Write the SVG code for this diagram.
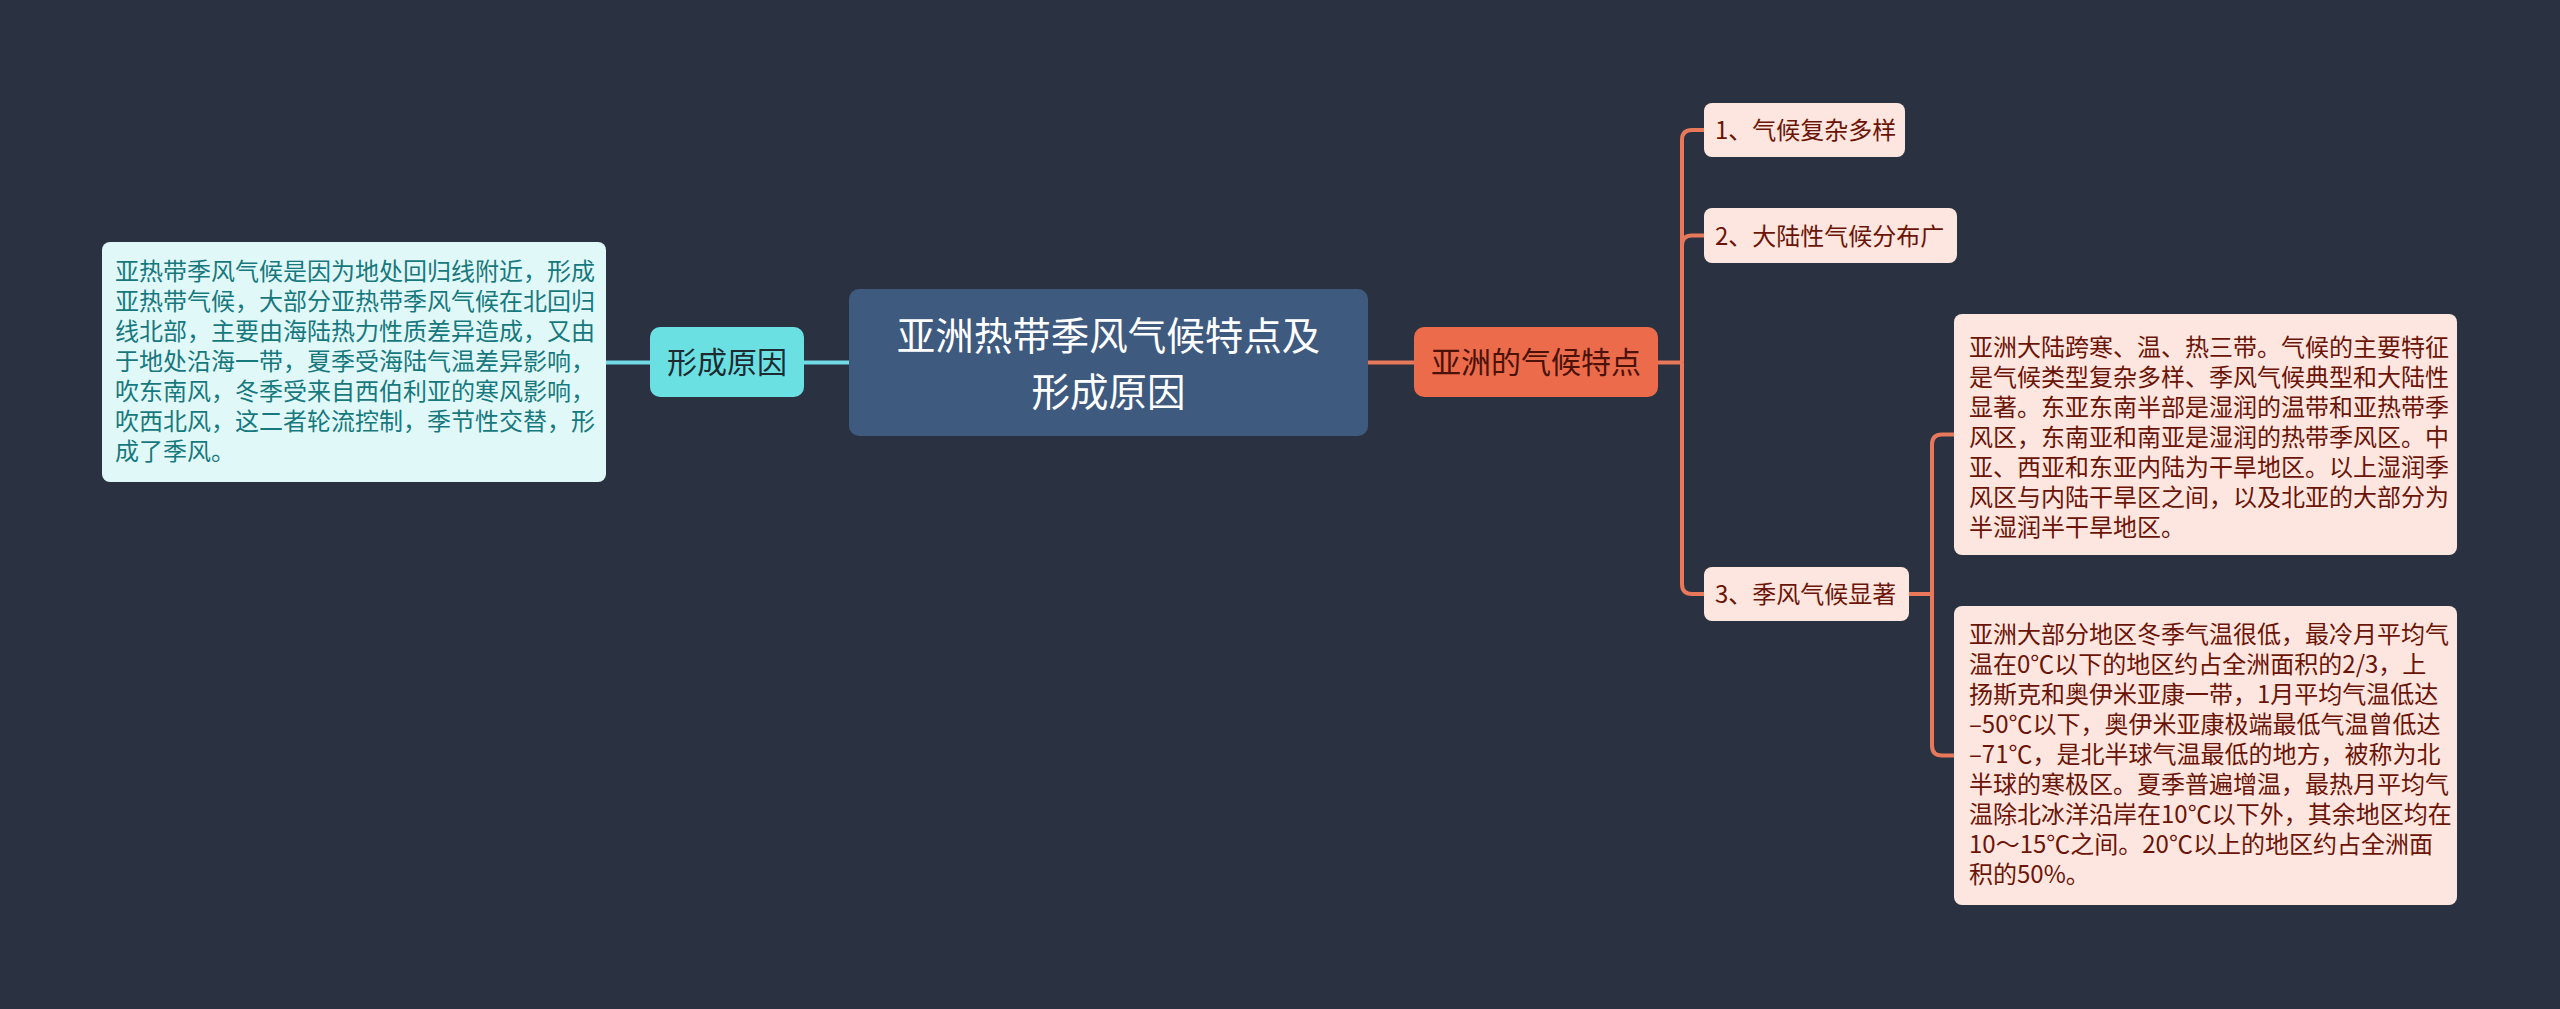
<svg xmlns="http://www.w3.org/2000/svg" width="2560" height="1009" viewBox="0 0 2560 1009">
<style>
text{font-family:"Noto Sans CJK SC","Noto Sans",sans-serif;}
.bt{font-size:24px;}
.teal{fill:#17797e;}
.red{fill:#6b1408;}
.c-cyan{stroke:#70dae5;stroke-width:4;fill:none;}
.c-org{stroke:#e8785a;stroke-width:4;fill:none;}
</style>
<rect x="0" y="0" width="2560" height="1009" fill="#2a3140"/>
<g id="connectors">
  <path class="c-cyan" d="M606,362.5 H650"/>
  <path class="c-cyan" d="M804,362.5 H849"/>
  <path class="c-org" d="M1368,362.5 H1414"/>
  <path class="c-org" d="M1658,362.5 H1682"/>
  <path class="c-org" d="M1682,362.5 V140 Q1682,130 1692,130 H1704"/>
  <path class="c-org" d="M1682,362.5 V245.5 Q1682,235.5 1692,235.5 H1704"/>
  <path class="c-org" d="M1682,362.5 V584 Q1682,594 1692,594 H1704"/>
  <path class="c-org" d="M1909,594 H1932"/>
  <path class="c-org" d="M1932,594 V444.5 Q1932,434.5 1942,434.5 H1954"/>
  <path class="c-org" d="M1932,594 V745.5 Q1932,755.5 1942,755.5 H1954"/>
</g>
<g id="root">
  <rect x="849" y="289" width="519" height="147" rx="10" fill="#3e5a7f"/>
  <text font-size="38.5" fill="#ffffff" text-anchor="middle"><tspan x="1108.5" y="350">亚洲热带季风气候特点及</tspan><tspan x="1108.5" y="406">形成原因</tspan></text>
</g>
<g id="node-cause">
  <rect x="650" y="327" width="154" height="70" rx="10" fill="#6be0e3"/>
  <text x="727" y="373" font-size="30" fill="#1d2b30" text-anchor="middle">形成原因</text>
</g>
<g id="node-cause-detail">
  <rect x="102" y="242" width="504" height="240" rx="8" fill="#e1f8f8"/>
  <text class="bt teal" x="115" y="280">亚热带季风气候是因为地处回归线附近，形成</text>
  <text class="bt teal" x="115" y="310">亚热带气候，大部分亚热带季风气候在北回归</text>
  <text class="bt teal" x="115" y="340">线北部，主要由海陆热力性质差异造成，又由</text>
  <text class="bt teal" x="115" y="370">于地处沿海一带，夏季受海陆气温差异影响，</text>
  <text class="bt teal" x="115" y="400">吹东南风，冬季受来自西伯利亚的寒风影响，</text>
  <text class="bt teal" x="115" y="430">吹西北风，这二者轮流控制，季节性交替，形</text>
  <text class="bt teal" x="115" y="460">成了季风。</text>
</g>
<g id="node-features">
  <rect x="1414" y="327" width="244" height="70" rx="10" fill="#ec6b4b"/>
  <text x="1536" y="373" font-size="30" fill="#4a1208" text-anchor="middle">亚洲的气候特点</text>
</g>
<g id="node-f1">
  <rect x="1704" y="103" width="201" height="54" rx="8" fill="#fde6df"/>
  <text class="bt red" x="1715" y="139">1、气候复杂多样</text>
</g>
<g id="node-f2">
  <rect x="1704" y="208" width="253" height="55" rx="8" fill="#fde6df"/>
  <text class="bt red" x="1715" y="244.5">2、大陆性气候分布广</text>
</g>
<g id="node-f3">
  <rect x="1704" y="567" width="205" height="54" rx="8" fill="#fde6df"/>
  <text class="bt red" x="1715" y="603">3、季风气候显著</text>
</g>
<g id="node-f3a">
  <rect x="1954" y="314" width="503" height="241" rx="8" fill="#fde6df"/>
  <text class="bt red" x="1969" y="356">亚洲大陆跨寒、温、热三带。气候的主要特征</text>
  <text class="bt red" x="1969" y="386">是气候类型复杂多样、季风气候典型和大陆性</text>
  <text class="bt red" x="1969" y="416">显著。东亚东南半部是湿润的温带和亚热带季</text>
  <text class="bt red" x="1969" y="446">风区，东南亚和南亚是湿润的热带季风区。中</text>
  <text class="bt red" x="1969" y="476">亚、西亚和东亚内陆为干旱地区。以上湿润季</text>
  <text class="bt red" x="1969" y="506">风区与内陆干旱区之间，以及北亚的大部分为</text>
  <text class="bt red" x="1969" y="536">半湿润半干旱地区。</text>
</g>
<g id="node-f3b">
  <rect x="1954" y="606" width="503" height="299" rx="8" fill="#fde6df"/>
  <text class="bt red" x="1969" y="643">亚洲大部分地区冬季气温很低，最冷月平均气</text>
  <text class="bt red" x="1969" y="673">温在0℃以下的地区约占全洲面积的2/3，上</text>
  <text class="bt red" x="1969" y="703">扬斯克和奥伊米亚康一带，1月平均气温低达</text>
  <text class="bt red" x="1969" y="733">–50℃以下，奥伊米亚康极端最低气温曾低达</text>
  <text class="bt red" x="1969" y="763">–71℃，是北半球气温最低的地方，被称为北</text>
  <text class="bt red" x="1969" y="793">半球的寒极区。夏季普遍增温，最热月平均气</text>
  <text class="bt red" x="1969" y="823">温除北冰洋沿岸在10℃以下外，其余地区均在</text>
  <text class="bt red" x="1969" y="853">10～15℃之间。20℃以上的地区约占全洲面</text>
  <text class="bt red" x="1969" y="883">积的50%。</text>
</g>
</svg>
